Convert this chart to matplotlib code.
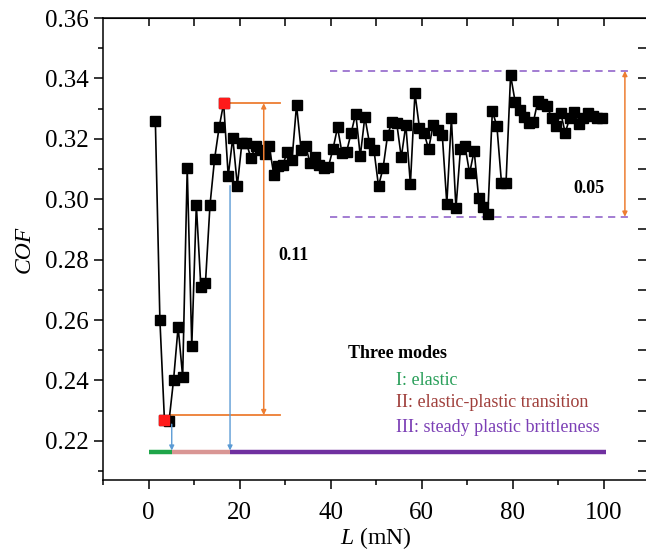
import matplotlib

matplotlib.use("Agg")
import matplotlib.pyplot as plt
from matplotlib.ticker import MultipleLocator

plt.rcParams["font.family"] = "Liberation Serif"
plt.rcParams["mathtext.fontset"] = "custom"
plt.rcParams["mathtext.rm"] = "Liberation Serif"
plt.rcParams["mathtext.it"] = "Liberation Serif:italic"

# load (mN) and coefficient of friction
load = [1.5, 2.5, 3.5, 4.5, 5.5, 6.5, 7.5, 8.5, 9.5, 10.5,
        11.5, 12.5, 13.5, 14.5, 15.5, 16.5, 17.5, 18.5, 19.5, 20.5,
        21.5, 22.5, 23.5, 24.5, 25.5, 26.5, 27.5, 28.5, 29.5, 30.5,
        31.5, 32.5, 33.5, 34.5, 35.5, 36.5, 37.5, 38.5, 39.5, 40.5,
        41.5, 42.5, 43.5, 44.5, 45.5, 46.5, 47.5, 48.5, 49.5, 50.5,
        51.5, 52.5, 53.5, 54.5, 55.5, 56.5, 57.5, 58.5, 59.5, 60.5,
        61.5, 62.5, 63.5, 64.5, 65.5, 66.5, 67.5, 68.5, 69.5, 70.5,
        71.5, 72.5, 73.5, 74.5, 75.5, 76.5, 77.5, 78.5, 79.5, 80.5,
        81.5, 82.5, 83.5, 84.5, 85.5, 86.5, 87.5, 88.5, 89.5, 90.5,
        91.5, 92.5, 93.5, 94.5, 95.5, 96.5, 97.5, 98.5, 99.5]
cof = [0.326, 0.260, 0.2268, 0.2265, 0.2402, 0.2577, 0.2412, 0.3103, 0.2514, 0.2981,
       0.2709, 0.2722, 0.2981, 0.3133, 0.3238, 0.3318, 0.3077, 0.3204, 0.3045, 0.3186,
       0.3186, 0.3136, 0.3178, 0.3163, 0.3150, 0.3176, 0.3082, 0.3110, 0.3114, 0.3158,
       0.3130, 0.3312, 0.3163, 0.3176, 0.3119, 0.3139, 0.3114, 0.3105, 0.3108, 0.3166,
       0.3238, 0.3152, 0.3158, 0.3220, 0.3284, 0.3143, 0.3273, 0.3187, 0.3163, 0.3044,
       0.3103, 0.3213, 0.3257, 0.3252, 0.3139, 0.3246, 0.3050, 0.3351, 0.3235, 0.3220,
       0.3166, 0.3246, 0.3230, 0.3213, 0.2985, 0.3268, 0.2971, 0.3166, 0.3176, 0.3086,
       0.3161, 0.3003, 0.2976, 0.2951, 0.3293, 0.3241, 0.3055, 0.3055, 0.3411, 0.3323,
       0.3296, 0.3273, 0.3252, 0.3256, 0.3326, 0.3315, 0.3309, 0.3270, 0.3241, 0.3286,
       0.3220, 0.3270, 0.3289, 0.3250, 0.3270, 0.3286, 0.3275, 0.3270, 0.3270]

# highlighted min / max points
red_load = [3.5, 16.5]
red_cof = [0.2268, 0.3318]

# mode ranges on the load axis
mode_edges = [0, 5.1, 17.9, 100.4]
mode_colors = ["#1fa64a", "#d99694", "#7030a0"]
mode_labels = ["I: elastic", "II: elastic-plastic transition", "III: steady plastic brittleness"]
mode_text_colors = ["#2a9f5a", "#a0403c", "#7b3fb5"]
bar_level = 0.2163

orange = "#ed7d31"
blue = "#5b9bd5"
lavender = "#9b72cf"

fig = plt.figure(figsize=(6.46, 5.55), dpi=100)
ax = fig.add_axes([0.1594, 0.135, 0.8460, 0.8324])

ax.plot(load, cof, color="black", lw=1.2, marker="s", ms=7.3, zorder=3)
ax.plot(red_load, red_cof, ls="none", marker="s", ms=7.3, color="#ff1a1a", zorder=4)

# mode bars
for i in range(3):
    ax.plot([mode_edges[i], mode_edges[i + 1]], [bar_level, bar_level],
            color=mode_colors[i], lw=3.2, solid_capstyle="butt", zorder=2)

# blue arrows marking the mode boundaries
ax.annotate("", xy=(mode_edges[1], bar_level + 0.0005), xytext=(mode_edges[1], 0.2255),
            arrowprops=dict(arrowstyle="-|>", color=blue, lw=1.0, mutation_scale=7,
                            shrinkA=0, shrinkB=0))
ax.annotate("", xy=(mode_edges[2], bar_level + 0.0005), xytext=(mode_edges[2], 0.3045),
            arrowprops=dict(arrowstyle="-|>", color=blue, lw=1.0, mutation_scale=7,
                            shrinkA=0, shrinkB=0))

# 0.11 range
ax.plot([17.1, 28.8], [red_cof[1], red_cof[1]], color=orange, lw=1.3)
ax.plot([5.0, 28.8], [0.2285, 0.2285], color=orange, lw=1.3)
ax.annotate("", xy=(25.3, 0.2285), xytext=(25.3, red_cof[1]),
            arrowprops=dict(arrowstyle="<|-|>", color=orange, lw=1.1, mutation_scale=7,
                            shrinkA=0, shrinkB=0))
ax.text(28.6, 0.2815, "0.11", fontsize=13, fontweight="bold", va="center", ha="left")

# 0.05 range
ax.plot([39.8, 106], [0.3425, 0.3425], color=lavender, lw=1.3, ls=(0, (4, 3)))
ax.plot([39.8, 106], [0.2942, 0.2942], color=lavender, lw=1.3, ls=(0, (4, 3)))
ax.annotate("", xy=(104.6, 0.2942), xytext=(104.6, 0.3425),
            arrowprops=dict(arrowstyle="<|-|>", color=orange, lw=1.1, mutation_scale=7,
                            shrinkA=0, shrinkB=0))
ax.text(96.6, 0.3035, "0.05", fontsize=13, fontweight="bold", va="center", ha="center")

# mode legend
ax.text(43.8, 0.2490, "Three modes", fontsize=13, fontweight="bold", va="center", ha="left")
for i, y in enumerate([0.2400, 0.2326, 0.2243]):
    ax.text(54.3, y, mode_labels[i], fontsize=13, color=mode_text_colors[i],
            va="center", ha="left")

ax.set_xlim(-10, 110)
ax.set_ylim(0.207, 0.36)
ax.xaxis.set_minor_locator(MultipleLocator(10))
ax.yaxis.set_minor_locator(MultipleLocator(0.01))
ax.set_xticks([0, 20, 40, 60, 80, 100])
ax.set_yticks([0.22, 0.24, 0.26, 0.28, 0.30, 0.32, 0.34, 0.36])
ax.set_yticklabels(["0.22", "0.24", "0.26", "0.28", "0.30", "0.32", "0.34", "0.36"])
ax.tick_params(axis="both", which="major", labelsize=18, direction="out", length=6.5, width=1.1)
ax.tick_params(axis="x", which="major", pad=9)
ax.tick_params(axis="both", which="minor", direction="out", length=3.5, width=1.1)

top = ax.secondary_xaxis("top")
top.set_xticks([0, 10, 20, 30, 40, 50, 60, 70, 80, 90, 100, 110])
top.tick_params(direction="in", length=6, width=1.1, labeltop=False)
right = ax.secondary_yaxis("right")
right.set_yticks([0.21, 0.22, 0.23, 0.24, 0.25, 0.26, 0.27, 0.28, 0.29, 0.30,
                  0.31, 0.32, 0.33, 0.34, 0.35])
right.tick_params(direction="in", length=8, width=1.1, labelright=False)

for s in ax.spines.values():
    s.set_linewidth(1.1)

ax.set_xlabel("$L$ (mN)", fontsize=17)
ax.xaxis.set_label_coords(0.5, -0.098)
ax.set_ylabel("COF", fontsize=17, fontstyle="italic", labelpad=8)

fig.savefig("out.png", dpi=100)
plt.close(fig)
